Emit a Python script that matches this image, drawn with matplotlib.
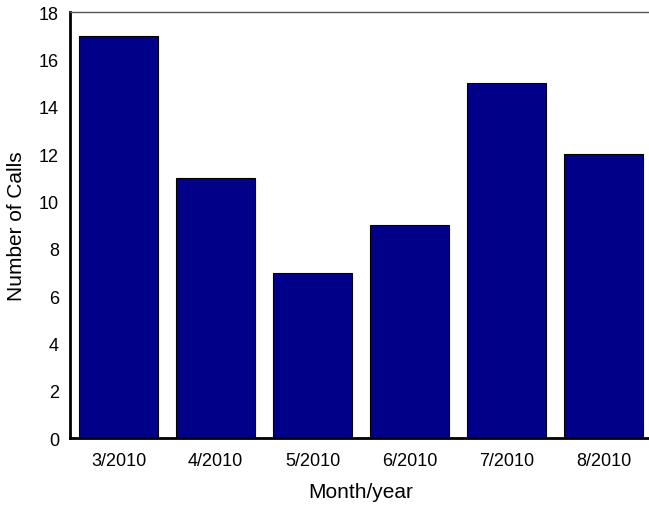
import matplotlib
matplotlib.use("Agg")
from matplotlib import pyplot as plt

plt.rcParams['font.family'] = ['Liberation Sans', 'DejaVu Sans']

months = ["3/2010", "4/2010", "5/2010", "6/2010", "7/2010", "8/2010"]
calls = [17, 11, 7, 9, 15, 12]

fig = plt.figure(figsize=(6.49, 5.06), dpi=100)
ax = fig.add_axes([0.108, 0.132, 0.897, 0.842])

index = list(range(len(months)))
ax.bar(index, calls, width=0.81, color='#000088', edgecolor='black', linewidth=0.8)

ax.set_xlim(-0.5, 5.5)
ax.set_ylim(0, 18)
ax.set_yticks(range(0, 19, 2))
ax.set_xticks(index)
ax.set_xticklabels(months)
ax.tick_params(axis='both', length=0, labelsize=13)
ax.tick_params(axis='x', pad=10)
ax.tick_params(axis='y', pad=8)

ax.set_xlabel("Month/year", fontsize=15, labelpad=9)
ax.set_ylabel("Number of Calls", fontsize=15, labelpad=9)

ax.spines['left'].set_linewidth(2)
ax.spines['bottom'].set_linewidth(2)
ax.spines['top'].set_linewidth(1)
ax.spines['top'].set_color('#555555')
ax.spines['right'].set_visible(False)

fig.savefig('out.png', dpi=100)
